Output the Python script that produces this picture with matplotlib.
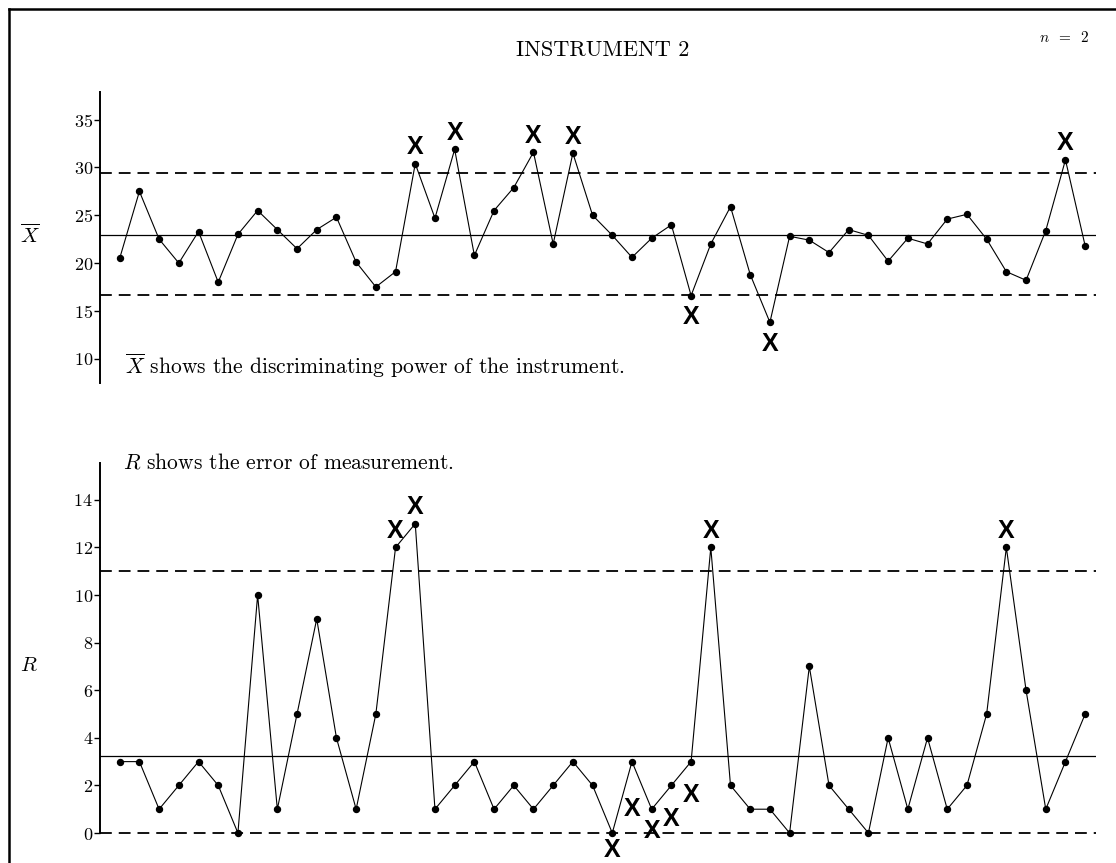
import numpy as np
import matplotlib.pyplot as plt
from matplotlib.lines import Line2D

plt.rcParams['font.family'] = 'cmr10'
plt.rcParams['mathtext.fontset'] = 'cm'
plt.rcParams['axes.formatter.use_mathtext'] = True
plt.rcParams['lines.scale_dashes'] = False

# 50 subgroups of n = 2: averages and ranges
xbar = [20.5, 27.5, 22.5, 20.0, 23.3, 18.0, 23.0, 25.5, 23.5, 21.5,
        23.5, 24.8, 20.1, 17.5, 19.1, 30.4, 24.7, 31.9, 20.8, 25.5,
        27.9, 31.6, 22.0, 31.5, 25.0, 22.9, 20.6, 22.6, 24.0, 16.6,
        22.0, 25.9, 18.8, 13.8, 22.8, 22.4, 21.1, 23.5, 22.9, 20.2,
        22.6, 22.0, 24.6, 25.1, 22.5, 19.1, 18.2, 23.4, 30.8, 21.8]
ranges = [3, 3, 1, 2, 3, 2, 0, 10, 1, 5,
          9, 4, 1, 5, 12, 13, 1, 2, 3, 1,
          2, 1, 2, 3, 2, 0, 3, 1, 2, 3,
          12, 2, 1, 1, 0, 7, 2, 1, 0, 4,
          1, 4, 1, 2, 5, 12, 6, 1, 3, 5]

xbar_center, xbar_ucl, xbar_lcl = 22.95, 29.4, 16.65
r_center, r_ucl, r_lcl = 3.25, 11.0, 0.0

xbar_ticks = [10, 15, 20, 25, 30, 35]
r_ticks = [0, 2, 4, 6, 8, 10, 12, 14]

# out-of-control flags (subgroup numbers)
xbar_high = [16, 18, 22, 24, 49]
xbar_low = [30, 34]
r_high = [15, 16, 31, 46]
r_low = [26]
# run flags on the R chart, each at its own height
r_run_n = [27, 28, 29, 30]
r_run_y = [1.1, 0.2, 0.7, 1.7]

W, H = 1116, 863
fig = plt.figure(figsize=(W / 100, H / 100), dpi=100)


def px_axes(left, top, right, bottom):
    return fig.add_axes([left / W, 1 - bottom / H, (right - left) / W, (bottom - top) / H])


def setup(ax, ylim, ticks):
    ax.set_xlim(0, 50.55)
    ax.set_ylim(*ylim)
    for s in ('top', 'right', 'bottom'):
        ax.spines[s].set_visible(False)
    ax.spines['left'].set_linewidth(1.4)
    ax.set_xticks([])
    ax.set_yticks(ticks)
    ax.tick_params(axis='y', direction='out', length=4, width=1, pad=1, labelsize=13)


def draw_chart(ax, values, center, ucl, lcl):
    n = np.arange(1, len(values) + 1)
    ax.axhline(center, color='black', lw=0.9)
    for lim in (ucl, lcl):
        ax.axhline(lim, color='black', lw=1.3, dashes=(8.5, 5), clip_on=False)
    ax.plot(n, values, color='black', lw=0.8, marker='o', ms=4.3,
            clip_on=False, zorder=3)


def flag_at(ax, x, y, dy):
    # dy in pixels, X centred dy pixels from (x, y)
    ax.annotate('X', xy=(x, y), xytext=(0, dy - 9.5), textcoords='offset pixels',
                ha='center', va='baseline', fontfamily='Liberation Sans',
                fontweight='bold', fontsize=18, annotation_clip=False)


def flags(ax, nums, values, dy):
    for k in nums:
        flag_at(ax, k, values[k - 1], dy)


# X-bar chart
ax1 = px_axes(100, 92, 1096, 383)
setup(ax1, (7.45, 37.9), xbar_ticks)
draw_chart(ax1, xbar, xbar_center, xbar_ucl, xbar_lcl)
flags(ax1, xbar_high, xbar, 19)
flags(ax1, xbar_low, xbar, -19)

# R chart
ax2 = px_axes(100, 463, 1096, 833)
setup(ax2, (0, 15.55), r_ticks)
draw_chart(ax2, ranges, r_center, r_ucl, r_lcl)
flags(ax2, r_high, ranges, 19)
flags(ax2, r_low, ranges, -14)
for k, y in zip(r_run_n, r_run_y):
    flag_at(ax2, k, y, 0)

# texts
fig.text(603 / W, 1 - 56 / H, 'INSTRUMENT 2', fontsize=16, ha='center', va='baseline')
fig.text(1064 / W, 1 - 42 / H, r'$n\;\;=\;\;2$', fontsize=11, ha='center', va='baseline')
fig.text(30 / W, 1 - 235 / H, r'$\overline{X}$', fontsize=15, ha='center', va='center')
fig.text(29 / W, 1 - 666 / H, r'$R$', fontsize=15, ha='center', va='center')
fig.text(125 / W, 1 - 374 / H, r'$\overline{X}$ shows the discriminating power of the instrument.',
         fontsize=15.5, va='baseline')
fig.text(123 / W, 1 - 468 / H, r'$R$ shows the error of measurement.',
         fontsize=15.5, va='baseline')

# page frame: top and left edges
fig.add_artist(Line2D([9 / W, 9 / W], [0, 1 - 9 / H], color='black', lw=1.8))
fig.add_artist(Line2D([9 / W, 1], [1 - 9 / H, 1 - 9 / H], color='black', lw=1.8))

fig.savefig('out.png', dpi=100)
